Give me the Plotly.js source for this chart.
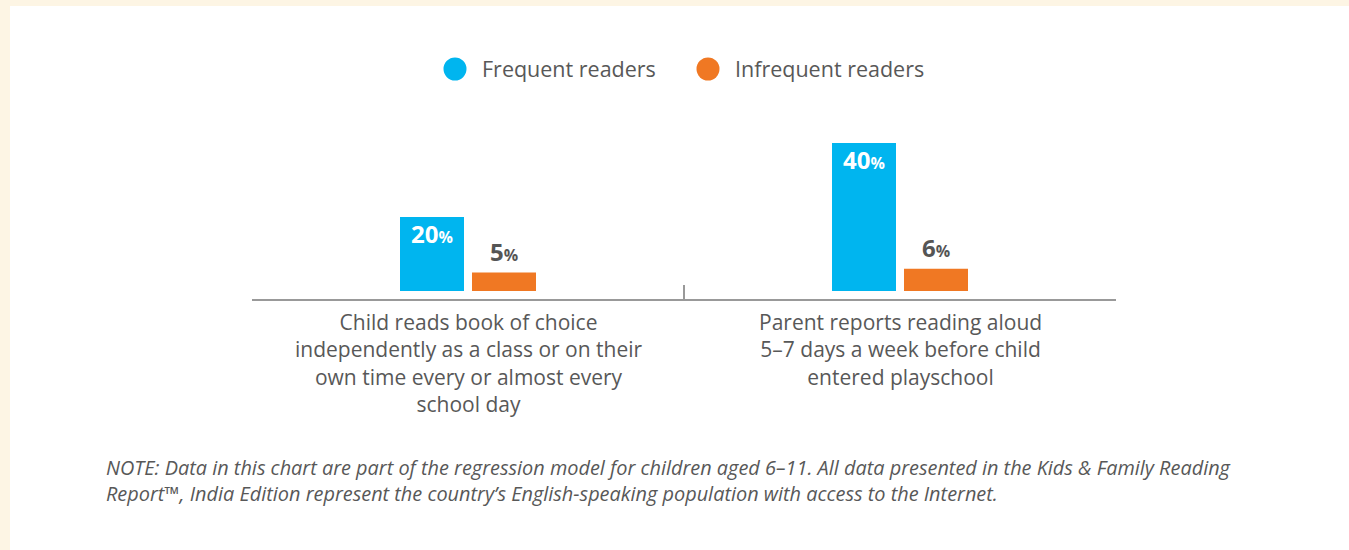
<!DOCTYPE html>
<html>
<head>
<meta charset="utf-8">
<script src="https://cdn.plot.ly/plotly-3.0.1.min.js"></script>
<style>html,body{margin:0;padding:0;background:#fff;}#chart{width:1349px;height:550px;}</style>
</head>
<body>
<div id="chart"></div>
<script>
const categories = [
  "Child reads book of choice<br>independently as a class or on their<br>own time every or almost every<br>school day",
  "Parent reports reading aloud<br>5–7 days a week before child<br>entered playschool"
];
const seriesNames = ["Frequent readers", "Infrequent readers"];
const frequent = [20, 40];
const infrequent = [5, 6];
const colors = ["#00b5ef", "#f07823"];
const noteText = "NOTE: Data in this chart are part of the regression model for children aged 6–11. All data presented in the Kids & Family Reading<br>" +
  "Report™, India Edition represent the country’s English-speaking population with access to the Internet.";

const W = 1349, H = 550;
const plotL = 252, plotR = 1116, plotT = 120, plotB = 299;
const pw = plotR - plotL, ph = plotB - plotT;
const pxPerUnit = 3.7;
const yMin = -8 / pxPerUnit;
const yMax = yMin + ph / pxPerUnit;
const catPx = pw / 2;
const barPx = 64, gapPx = 8;
const px = v => (v - plotL) / pw;
const py = v => (plotB - v) / ph;

const font = "'Open Sans', 'DejaVu Sans', sans-serif";
const textGray = "#585858";

const traces = [
  {type: "bar", name: seriesNames[0], x: categories, y: frequent,
   marker: {color: colors[0]}, width: barPx / catPx, offset: -(barPx + gapPx / 2) / catPx,
   showlegend: false, hoverinfo: "skip"},
  {type: "bar", name: seriesNames[1], x: categories, y: infrequent,
   marker: {color: colors[1]}, width: barPx / catPx, offset: (gapPx / 2) / catPx,
   showlegend: false, hoverinfo: "skip"}
];

const annotations = [];
const lbl = v => "<b>" + v + "<span style=\"font-size:16px\">%</span></b>";
categories.forEach((c, i) => {
  annotations.push({x: c, xref: "x", y: frequent[i], yref: "y", xshift: -(barPx + gapPx) / 2,
    yanchor: "top", yshift: 2, showarrow: false, text: lbl(frequent[i]),
    font: {family: font, size: 24, color: "#ffffff"}});
  annotations.push({x: c, xref: "x", y: infrequent[i], yref: "y", xshift: (barPx + gapPx) / 2,
    yanchor: "bottom", yshift: 3, showarrow: false, text: lbl(infrequent[i]),
    font: {family: font, size: 24, color: "#555555"}});
  // category label below the axis line
  annotations.push({x: c, xref: "x", y: py(307), yref: "paper", xanchor: "center",
    yanchor: "top", showarrow: false, text: c, align: "center", borderpad: 0,
    font: {family: font, size: 21, color: textGray}});
});

// legend (manual, circles)
const legendX = [455, 708];
const shapes = [
  {type: "rect", xref: "paper", yref: "paper", x0: px(10), x1: px(W + 5), y0: py(H + 5), y1: py(6),
   fillcolor: "#ffffff", line: {width: 0}, layer: "below"},
  {type: "line", xref: "x", yref: "y", x0: 0.5, x1: 0.5, ysizemode: "pixel", yanchor: yMin,
   y0: -14, y1: 14, line: {color: "#999999", width: 2}}
];
seriesNames.forEach((n, i) => {
  shapes.push({type: "circle", xref: "paper", yref: "paper", xsizemode: "pixel", ysizemode: "pixel",
    xanchor: px(legendX[i]), yanchor: py(69), x0: -11.5, x1: 11.5, y0: -11.5, y1: 11.5,
    fillcolor: colors[i], line: {width: 0}});
  annotations.push({xref: "paper", yref: "paper", x: px(legendX[i] + 25), y: py(69), xanchor: "left",
    yanchor: "middle", showarrow: false, text: n, font: {family: font, size: 21.5, color: textGray}});
});
annotations.push({xref: "paper", yref: "paper", x: px(105), y: py(480.5), xanchor: "left",
  yanchor: "middle", showarrow: false, text: noteText, align: "left", borderpad: 0,
  font: {family: font, size: 19.9, color: textGray, style: "italic"}});

const layout = {
  width: W, height: H,
  margin: {l: plotL, r: W - plotR, t: plotT, b: H - plotB, pad: 0},
  paper_bgcolor: "#fdf5e4", plot_bgcolor: "rgba(0,0,0,0)",
  showlegend: false,
  xaxis: {type: "category", range: [-0.5, 1.5], showgrid: false, zeroline: false,
    showline: true, linecolor: "#999999", linewidth: 2, ticks: "", showticklabels: false, fixedrange: true},
  yaxis: {range: [yMin, yMax], visible: false, showgrid: false, zeroline: false, fixedrange: true},
  annotations: annotations,
  shapes: shapes
};

Plotly.newPlot("chart", traces, layout, {displayModeBar: false, staticPlot: true});
</script>
</body>
</html>
